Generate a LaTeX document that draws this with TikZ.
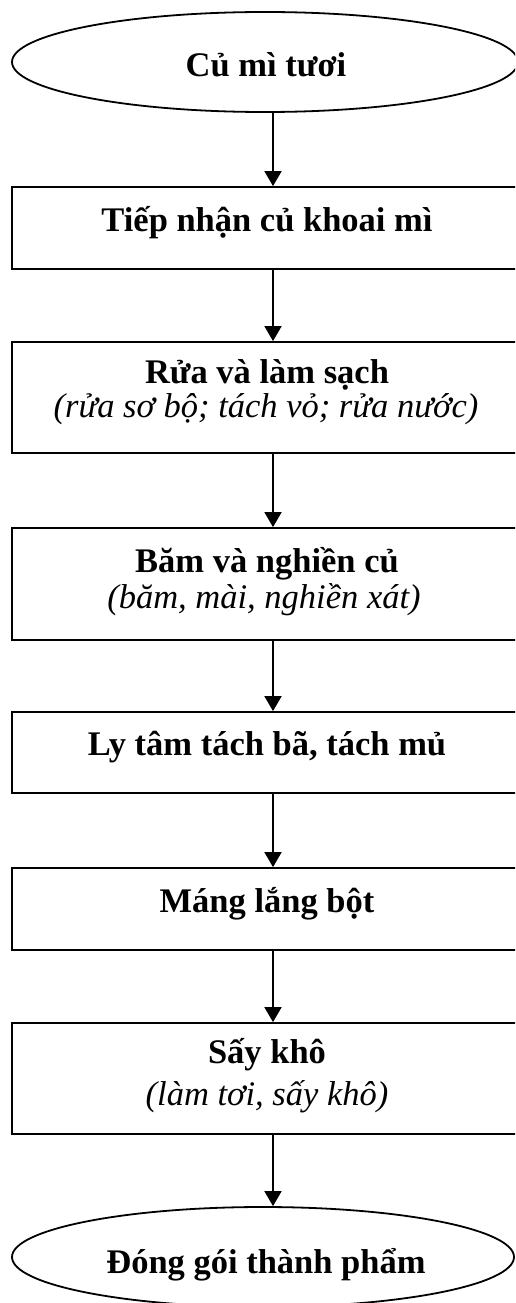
\documentclass[tikz,border=0pt]{standalone}
\usepackage{fontspec}
\setmainfont{Liberation Serif}
\usetikzlibrary{arrows.meta,shapes.geometric}
\begin{document}
\begin{tikzpicture}[x=1pt,y=-1pt,
  box/.style={draw, line width=1.8pt, rectangle, inner sep=0pt, minimum width=513pt},
  oval/.style={draw, ellipse, line width=1.8pt, inner sep=0pt},
  bt/.style={anchor=base, inner sep=0pt, font=\fontsize{34.5}{40}\selectfont\bfseries},
  it/.style={anchor=base, inner sep=0pt, font=\fontsize{34.5}{40}\selectfont\itshape},
  arr/.style={-{Triangle[width=17pt,length=15pt]}, line width=1.8pt}]
\clip (0,0) rectangle (515,1303);
% shapes
\node[oval, minimum width=506pt, minimum height=100pt] (e1) at (265,62) {};
\node[box, minimum height=82pt]  (b1) at (268.5,228) {};
\node[box, minimum height=111pt] (b2) at (268.5,397.5) {};
\node[box, minimum height=112pt] (b3) at (268.5,584) {};
\node[box, minimum height=81pt]  (b4) at (268.5,752.5) {};
\node[box, minimum height=82pt]  (b5) at (268.5,909) {};
\node[box, minimum height=111pt] (b6) at (268.5,1078.5) {};
\node[oval, minimum width=502pt, minimum height=100pt] (e2) at (263,1257) {};
% texts
\node[bt] (t0) at (266,77) {Củ mì tươi};
\node[bt] (t1) at (267,231) {Tiếp nhận củ khoai mì};
\node[bt] (t2a) at (267,383) {Rửa và làm sạch};
\node[it] (t2b) at (266,417) {(rửa sơ bộ; tách vỏ; rửa nước)};
\node[bt] (t3a) at (267,572) {Băm và nghiền củ};
\node[it] (t3b) at (264,608) {(băm, mài, nghiền xát)};
\node[bt] (t4) at (267,755) {Ly tâm tách bã, tách mủ};
\node[bt] (t5) at (267,912) {Máng lắng bột};
\node[bt] (t6a) at (267,1063) {Sấy khô};
\node[it] (t6b) at (267,1105) {(làm tơi, sấy khô)};
\node[bt] (t7) at (266,1273) {Đóng gói thành phẩm};
% connectors
\coordinate (ax) at (273,0);
\draw[arr] (e1.south -| ax) -- (b1.north -| ax);
\draw[arr] (b1.south -| ax) -- (b2.north -| ax);
\draw[arr] (b2.south -| ax) -- (b3.north -| ax);
\draw[arr] (b3.south -| ax) -- (b4.north -| ax);
\draw[arr] (b4.south -| ax) -- (b5.north -| ax);
\draw[arr] (b5.south -| ax) -- (b6.north -| ax);
\draw[arr] (b6.south -| ax) -- (e2.north -| ax);
\end{tikzpicture}
\end{document}
